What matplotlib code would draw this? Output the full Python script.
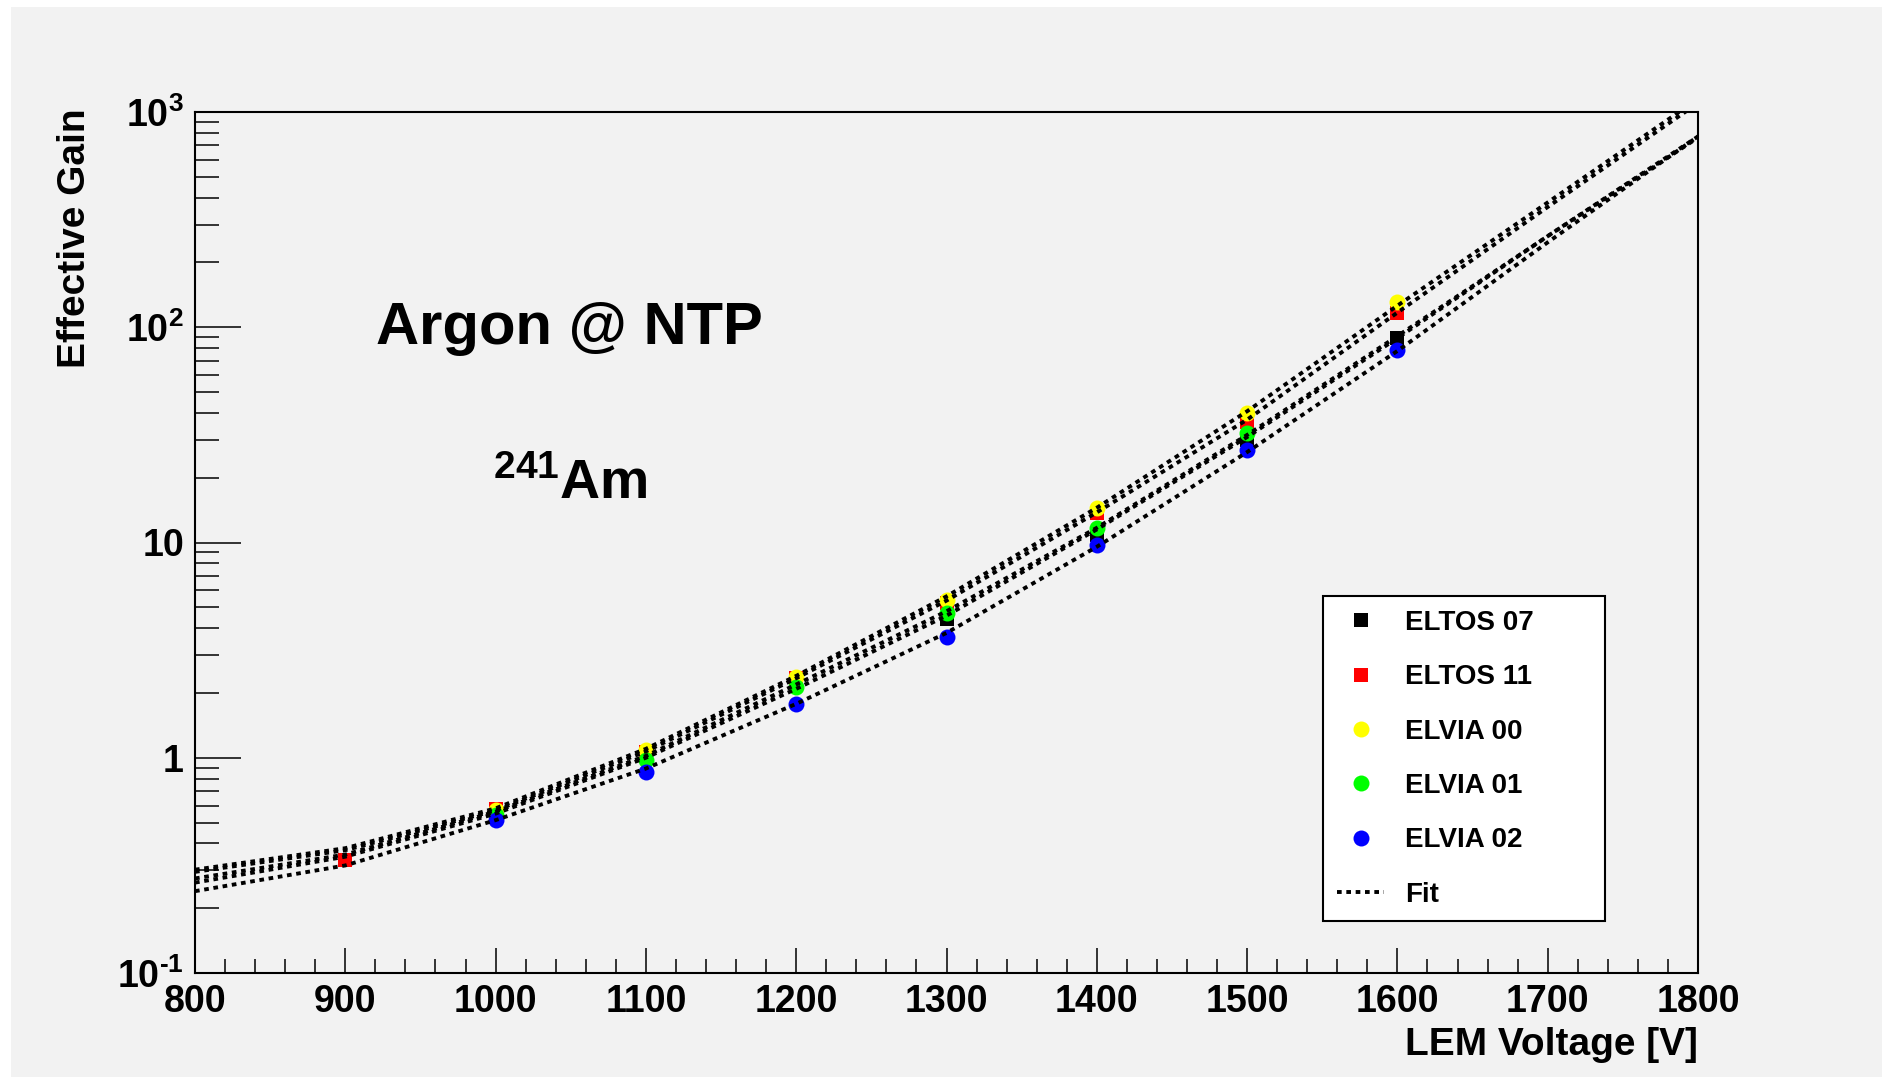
import matplotlib
matplotlib.use("Agg")
import matplotlib.pyplot as plt
from matplotlib.patches import Rectangle
from matplotlib.ticker import FixedLocator, FixedFormatter, MultipleLocator, NullFormatter

plt.rcParams['font.family'] = ['Liberation Sans', 'DejaVu Sans']
plt.rcParams['font.weight'] = 'bold'
plt.rcParams['mathtext.fontset'] = 'custom'
plt.rcParams['mathtext.rm'] = 'Liberation Sans:bold'
plt.rcParams['mathtext.it'] = 'Liberation Sans:bold'
plt.rcParams['mathtext.bf'] = 'Liberation Sans:bold'

# measured points (LEM voltage [V] -> effective gain)
eltos07_v = [1000, 1100, 1200, 1300, 1400, 1500, 1600]
eltos07_gain = [0.56, 1.03, 2.22, 4.4, 10.8, 29.9, 89]

eltos11_v = [900, 1000, 1100, 1200, 1300, 1400, 1500, 1600]
eltos11_gain = [0.335, 0.578, 1.06, 2.35, 5.23, 13.7, 36.3, 116]

elvia00_v = [1000, 1100, 1200, 1300, 1400, 1500, 1600]
elvia00_gain = [0.574, 1.09, 2.37, 5.4, 14.5, 40, 131]

elvia01_v = [1000, 1100, 1200, 1300, 1400, 1500]
elvia01_gain = [0.542, 0.976, 2.13, 4.70, 11.7, 32.3]

elvia02_v = [1000, 1100, 1200, 1300, 1400, 1500, 1600]
elvia02_gain = [0.514, 0.859, 1.78, 3.64, 9.73, 26.9, 78]

# fit curves
fit_v = [800, 900, 1000, 1100, 1200, 1300, 1400, 1500, 1600, 1700, 1800]
fit_eltos07 = [0.263, 0.347, 0.550, 1.0, 2.09, 4.57, 11.5, 30.9, 89, 265, 770]
fit_eltos11 = [0.295, 0.372, 0.569, 1.07, 2.34, 5.37, 13.8, 37.2, 117, 362, 1100]
fit_elvia00 = [0.302, 0.380, 0.582, 1.10, 2.40, 5.62, 14.5, 40.7, 126, 380, 1150]
fit_elvia01 = [0.275, 0.355, 0.562, 1.02, 2.19, 4.79, 11.7, 31.6, 91, 265, 760]
fit_elvia02 = [0.240, 0.316, 0.513, 0.891, 1.78, 3.80, 9.55, 26.3, 77.6, 248, 770]

series = [
    ("ELTOS 07", eltos07_v, eltos07_gain, "s", "#000000"),
    ("ELTOS 11", eltos11_v, eltos11_gain, "s", "#ff0000"),
    ("ELVIA 00", elvia00_v, elvia00_gain, "o", "#ffff00"),
    ("ELVIA 01", elvia01_v, elvia01_gain, "o", "#00ff00"),
    ("ELVIA 02", elvia02_v, elvia02_gain, "o", "#0000ff"),
]
fits = [fit_eltos07, fit_eltos11, fit_elvia00, fit_elvia01, fit_elvia02]

W, H = 1884, 1079
fig = plt.figure(figsize=(W / 100, H / 100), dpi=100, facecolor="white")
fig.patches.append(Rectangle((11 / W, 2 / H), (1882 - 11) / W, (1072 - 2) / H,
                             transform=fig.transFigure, facecolor="#f2f2f2",
                             edgecolor="none", zorder=-10))

# frame in pixels: left 195, right 1698, top 112, bottom 973
ax = fig.add_axes([195 / W, (H - 973) / H, 1503 / W, 861 / H])
ax.patch.set_visible(False)

handles = []
for name, v, g, m, c in series:
    ms = 10.5 if m == "s" else 11.5
    h, = ax.plot(v, g, linestyle="none", marker=m, color=c, markersize=ms,
                 markeredgewidth=0, label=name)
    handles.append(h)

fit_handle = None
for f in fits:
    fit_handle, = ax.plot(fit_v, f, color="black", linewidth=2.8,
                          linestyle=(0, (1.2, 1.2)), label="Fit")
handles.append(fit_handle)

ax.set_yscale("log")
ax.set_xlim(800, 1800)
ax.set_ylim(0.1, 1000)

ax.xaxis.set_major_locator(MultipleLocator(100))
ax.xaxis.set_minor_locator(MultipleLocator(20))
ax.yaxis.set_major_locator(FixedLocator([0.1, 1, 10, 100, 1000]))
ax.yaxis.set_major_formatter(FixedFormatter(
    [r"$10^{\text{-}1}$", "1", "10", r"$10^{2}$", r"$10^{3}$"]))
minor = [k * 10.0 ** d for d in range(-1, 3) for k in range(2, 10)]
ax.yaxis.set_minor_locator(FixedLocator(minor))
ax.yaxis.set_minor_formatter(NullFormatter())

ax.tick_params(axis="x", which="major", direction="in", length=18, width=1.1,
               labelsize=27, pad=8, top=False)
ax.tick_params(axis="x", which="minor", direction="in", length=10, width=1.1,
               top=False)
ax.tick_params(axis="y", which="major", direction="in", length=33, width=1.1,
               labelsize=27, pad=8, right=False)
ax.tick_params(axis="y", which="minor", direction="in", length=17, width=1.1,
               right=False)
for s in ax.spines.values():
    s.set_linewidth(1.5)

# ROOT puts the lowest decade label a touch below the frame corner
ax.get_yticklabels()[0].set_y(0.085)

ax.set_xlabel("LEM Voltage [V]", loc="right", fontsize=28, fontweight="bold")
ax.xaxis.set_label_coords(1.0, -(1027 - 973) / 861)
ax.set_ylabel("Effective Gain", loc="top", fontsize=28, fontweight="bold")
ax.yaxis.set_label_coords(-(195 - 93) / 1503, 1 + 4 / 861)

ax.text((376 - 195) / 1503, (973 - 344) / 861, "Argon @ NTP",
        transform=ax.transAxes, fontsize=43, fontweight="bold",
        ha="left", va="baseline")
ax.text((493 - 195) / 1503, (973 - 499) / 861, r"$^{241}$Am",
        transform=ax.transAxes, fontsize=40, fontweight="bold",
        ha="left", va="baseline")

leg = fig.legend(handles, [h.get_label() for h in handles],
                 loc="upper left",
                 bbox_to_anchor=(1323 / W, 1 - 596 / H, 282 / W, 0),
                 mode="expand", borderaxespad=0, fontsize=20,
                 frameon=True, fancybox=False, framealpha=1,
                 facecolor="white", edgecolor="black",
                 handlelength=1.7, handletextpad=0.75, borderpad=0.5,
                 labelspacing=1.02, numpoints=1)
leg.get_frame().set_linewidth(1.5)

fig.savefig("out.png", dpi=100, facecolor="white")
